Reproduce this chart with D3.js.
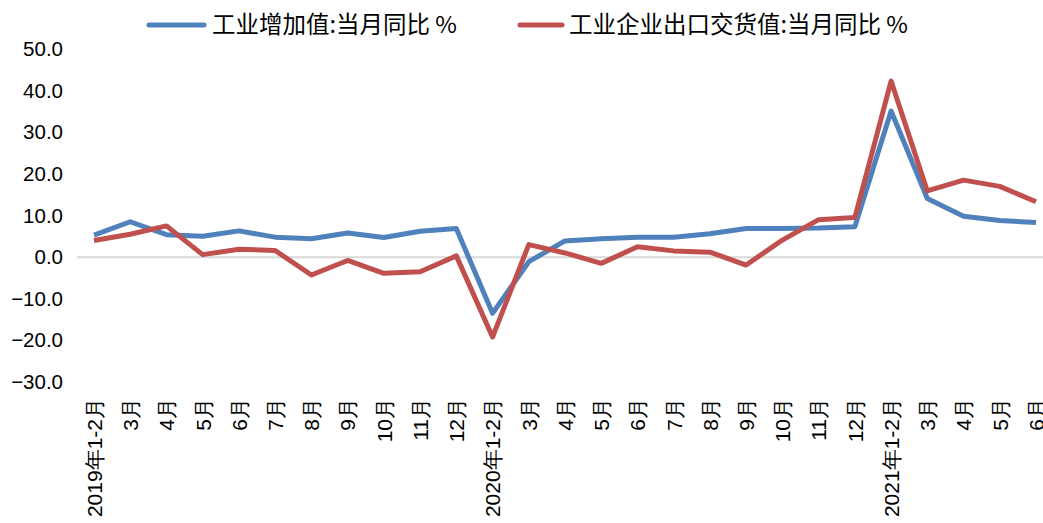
<!DOCTYPE html>
<html><head><meta charset="utf-8">
<script src="https://cdn.jsdelivr.net/npm/d3@7"></script>
<style>body{margin:0;background:#fff;}svg{display:block;font-family:"Noto Sans CJK SC","Noto Sans",sans-serif;}</style>
</head><body><svg id="c" width="1043" height="523"></svg>
<script>
const categories = ["2019年1-2月","3月","4月","5月","6月","7月","8月","9月","10月","11月","12月",
  "2020年1-2月","3月","4月","5月","6月","7月","8月","9月","10月","11月","12月",
  "2021年1-2月","3月","4月","5月","6月"];
const seriesNames = ["工业增加值:当月同比 %","工业企业出口交货值:当月同比 %"];
const valueAdded = [5.3,8.5,5.4,5.0,6.3,4.8,4.4,5.8,4.7,6.2,6.9,
  -13.5,-1.1,3.9,4.4,4.8,4.8,5.6,6.9,6.9,7.0,7.3,
  35.1,14.1,9.8,8.8,8.3];
const exportDelivery = [4.0,5.5,7.5,0.6,1.9,1.6,-4.3,-0.8,-3.9,-3.5,0.3,
  -19.2,3.0,1.0,-1.5,2.5,1.5,1.2,-1.9,4.1,9.0,9.5,
  42.3,15.9,18.5,17.0,13.3];
const yTicks = [-30,-20,-10,0,10,20,30,40,50];
const colors = ["#4f81bd","#c0504d"];

const svg = d3.select("#c");
const x = d3.scalePoint().domain(categories.map((d,i)=>i)).range([94,1036]);
const y = d3.scaleLinear().domain([-30,50]).range([382,49]);

// zero line
svg.append("line").attr("x1",77).attr("x2",1043).attr("y1",y(0)).attr("y2",y(0))
  .attr("stroke","#d9d9d9").attr("stroke-width",2);

// y axis labels
const ya = svg.append("g").attr("transform","translate(63,0)")
  .call(d3.axisLeft(y).tickValues(yTicks).tickSize(0).tickPadding(0).tickFormat(d3.format(".1f")));
ya.select(".domain").remove();
ya.selectAll("text").attr("font-size",20.5).attr("fill","#000").style("font-family","inherit");

// x axis labels
const xa = svg.append("g").attr("transform","translate(0,398)")
  .call(d3.axisBottom(x).tickSize(0).tickFormat(i=>categories[i]));
xa.select(".domain").remove();
xa.selectAll("text").attr("font-size",21).attr("fill","#000").style("font-family","inherit")
  .attr("transform","rotate(-90)").attr("text-anchor","end").attr("x",0).attr("y",0).attr("dy","0.35em");

const line = d3.line().x((d,i)=>x(i)).y(d=>y(d));
[valueAdded, exportDelivery].forEach((s,k)=>{
  svg.append("path").datum(s).attr("d",line).attr("fill","none")
    .attr("stroke",colors[k]).attr("stroke-width",5).attr("stroke-linejoin","round");
});

// legend
const leg = [{x1:149,x2:204,tx:212},{x1:520,x2:562,tx:569}];
leg.forEach((l,k)=>{
  svg.append("line").attr("x1",l.x1).attr("x2",l.x2).attr("y1",25).attr("y2",25)
    .attr("stroke",colors[k]).attr("stroke-width",5).attr("stroke-linecap","round");
  svg.append("text").attr("x",l.tx).attr("y",25).attr("dy","0.35em").attr("font-size",23.5)
    .attr("fill","#000").text(seriesNames[k]);
});
</script></body></html>
